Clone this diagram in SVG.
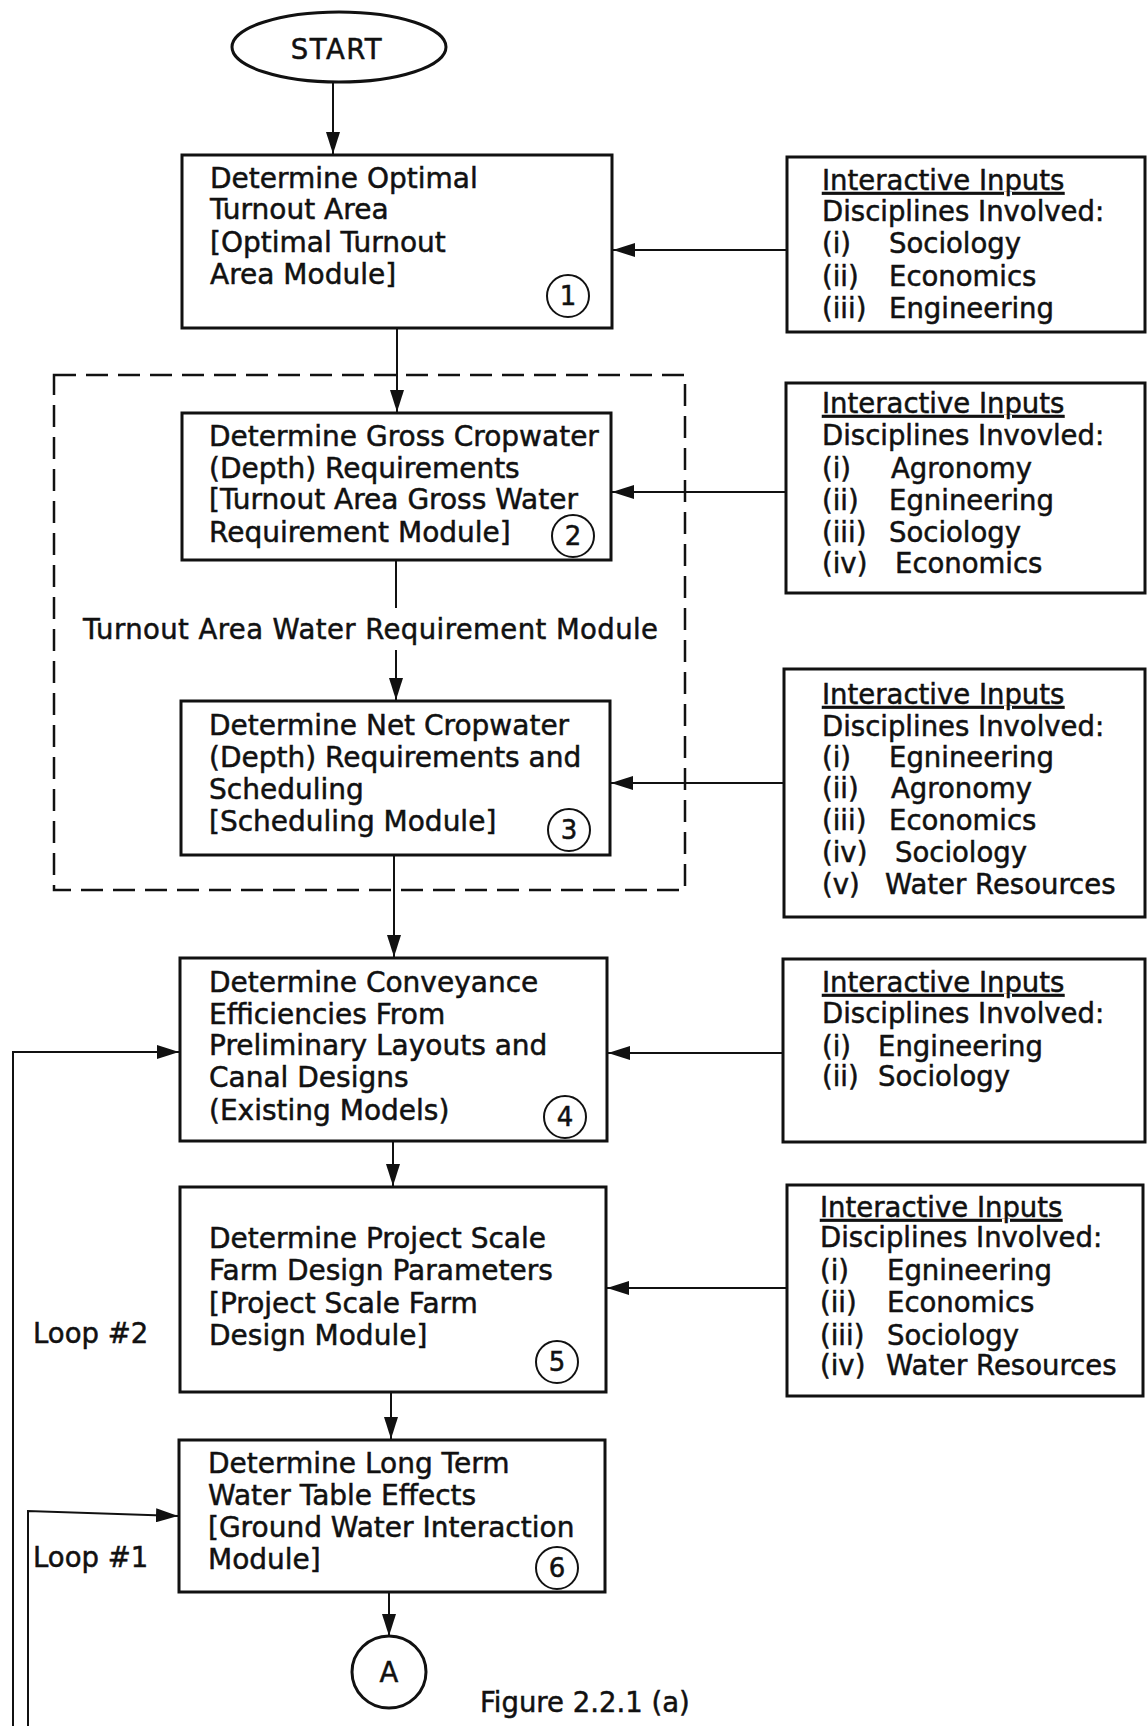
<svg xmlns="http://www.w3.org/2000/svg" width="1147" height="1726" viewBox="0 0 1147 1726">
<style>
text{font-family:"DejaVu Sans","Liberation Sans",sans-serif;font-size:27.5px;fill:#111;stroke:#111;stroke-width:0.5}
.l{font-size:28px}
.box{fill:#fff;stroke:#111;stroke-width:3}
.ln{fill:none;stroke:#111;stroke-width:2}
.dash{fill:none;stroke:#111;stroke-width:2.5;stroke-dasharray:22 10}
.num{font-size:26px;text-anchor:middle}
.u{text-decoration:underline}
</style>
<defs>
<marker id="ah" viewBox="0 0 22 14" refX="22" refY="7" markerWidth="22" markerHeight="14" markerUnits="userSpaceOnUse" orient="auto">
<path d="M0,0 L22,7 L0,14 Z" fill="#111"/>
</marker>
</defs>
<rect width="1147" height="1726" fill="#fff"/>

<g id="module-region">
<rect class="dash" x="54" y="375" width="631" height="515"/>
<text x="83" y="639" textLength="575">Turnout Area Water Requirement Module</text>
</g>

<g id="connectors">
<line class="ln" x1="333" y1="82" x2="333" y2="154" marker-end="url(#ah)"/>
<line class="ln" x1="397" y1="328" x2="397" y2="412" marker-end="url(#ah)"/>
<line class="ln" x1="396" y1="560" x2="396" y2="608"/>
<line class="ln" x1="396" y1="650" x2="396" y2="700" marker-end="url(#ah)"/>
<line class="ln" x1="394" y1="855" x2="394" y2="957" marker-end="url(#ah)"/>
<line class="ln" x1="393" y1="1141" x2="393" y2="1186" marker-end="url(#ah)"/>
<line class="ln" x1="391" y1="1392" x2="391" y2="1439" marker-end="url(#ah)"/>
<line class="ln" x1="389" y1="1592" x2="389" y2="1636" marker-end="url(#ah)"/>
<line class="ln" x1="787" y1="250" x2="613" y2="250" marker-end="url(#ah)"/>
<line class="ln" x1="786" y1="492" x2="612" y2="492" marker-end="url(#ah)"/>
<line class="ln" x1="784" y1="783" x2="611" y2="783" marker-end="url(#ah)"/>
<line class="ln" x1="783" y1="1053" x2="608" y2="1053" marker-end="url(#ah)"/>
<line class="ln" x1="787" y1="1288" x2="607" y2="1288" marker-end="url(#ah)"/>
<path class="ln" d="M13,1726 V1052 H179" marker-end="url(#ah)"/>
<path class="ln" d="M28,1726 V1511 L178,1516" marker-end="url(#ah)"/>
</g>

<g id="start">
<ellipse cx="339" cy="47" rx="107" ry="35" fill="#fff" stroke="#111" stroke-width="3"/>
<text x="337" y="59" text-anchor="middle" letter-spacing="1.5">START</text>
</g>

<g id="node1">
<rect class="box" x="182" y="155" width="430" height="173"/>
<text class="l" x="210" y="188">Determine Optimal</text>
<text class="l" x="210" y="219">Turnout Area</text>
<text class="l" x="210" y="252">[Optimal Turnout</text>
<text class="l" x="210" y="284">Area Module]</text>
<circle cx="568" cy="296" r="21" fill="none" stroke="#111" stroke-width="2"/>
<text class="num" x="568" y="305">1</text>
</g>

<g id="node2">
<rect class="box" x="182" y="413" width="429" height="147"/>
<text class="l" x="209" y="446">Determine Gross Cropwater</text>
<text class="l" x="209" y="478">(Depth) Requirements</text>
<text class="l" x="209" y="509">[Turnout Area Gross Water</text>
<text class="l" x="209" y="542">Requirement Module]</text>
<circle cx="573" cy="536" r="21" fill="none" stroke="#111" stroke-width="2"/>
<text class="num" x="573" y="545">2</text>
</g>

<g id="node3">
<rect class="box" x="181" y="701" width="429" height="154"/>
<text class="l" x="209" y="735">Determine Net Cropwater</text>
<text class="l" x="209" y="767">(Depth) Requirements and</text>
<text class="l" x="209" y="799">Scheduling</text>
<text class="l" x="209" y="831">[Scheduling Module]</text>
<circle cx="569" cy="830" r="21" fill="none" stroke="#111" stroke-width="2"/>
<text class="num" x="569" y="839">3</text>
</g>

<g id="node4">
<rect class="box" x="180" y="958" width="427" height="183"/>
<text class="l" x="209" y="992">Determine Conveyance</text>
<text class="l" x="209" y="1024">Efficiencies From</text>
<text class="l" x="209" y="1055">Preliminary Layouts and</text>
<text class="l" x="209" y="1087">Canal Designs</text>
<text class="l" x="209" y="1120">(Existing Models)</text>
<circle cx="565" cy="1117" r="21" fill="none" stroke="#111" stroke-width="2"/>
<text class="num" x="565" y="1126">4</text>
</g>

<g id="node5">
<rect class="box" x="180" y="1187" width="426" height="205"/>
<text class="l" x="209" y="1248">Determine Project Scale</text>
<text class="l" x="209" y="1280">Farm Design Parameters</text>
<text class="l" x="209" y="1313">[Project Scale Farm</text>
<text class="l" x="209" y="1345">Design Module]</text>
<circle cx="557" cy="1362" r="21" fill="none" stroke="#111" stroke-width="2"/>
<text class="num" x="557" y="1371">5</text>
</g>

<g id="node6">
<rect class="box" x="179" y="1440" width="426" height="152"/>
<text class="l" x="208" y="1473">Determine Long Term</text>
<text class="l" x="208" y="1505">Water Table Effects</text>
<text class="l" x="208" y="1537">[Ground Water Interaction</text>
<text class="l" x="208" y="1569">Module]</text>
<circle cx="557" cy="1568" r="21" fill="none" stroke="#111" stroke-width="2"/>
<text class="num" x="557" y="1577">6</text>
</g>

<g id="connectorA">
<ellipse cx="389" cy="1672" rx="37" ry="36" fill="#fff" stroke="#111" stroke-width="3"/>
<text x="389" y="1682" text-anchor="middle">A</text>
</g>

<g id="inputs1">
<rect class="box" x="787" y="157" width="358" height="175"/>
<text class="u" x="822" y="190">Interactive Inputs</text>
<text x="822" y="221">Disciplines Involved:</text>
<text x="822" y="253">(i)</text><text x="889" y="253">Sociology</text>
<text x="822" y="286">(ii)</text><text x="889" y="286">Economics</text>
<text x="822" y="318">(iii)</text><text x="889" y="318">Engineering</text>
</g>

<g id="inputs2">
<rect class="box" x="786" y="383" width="359" height="210"/>
<text class="u" x="822" y="413">Interactive Inputs</text>
<text x="822" y="445">Disciplines Invovled:</text>
<text x="822" y="478">(i)</text><text x="891" y="478">Agronomy</text>
<text x="822" y="510">(ii)</text><text x="889" y="510">Egnineering</text>
<text x="822" y="542">(iii)</text><text x="889" y="542">Sociology</text>
<text x="822" y="573">(iv)</text><text x="895" y="573">Economics</text>
</g>

<g id="inputs3">
<rect class="box" x="784" y="669" width="361" height="248"/>
<text class="u" x="822" y="704">Interactive Inputs</text>
<text x="822" y="736">Disciplines Involved:</text>
<text x="822" y="767">(i)</text><text x="889" y="767">Egnineering</text>
<text x="822" y="798">(ii)</text><text x="891" y="798">Agronomy</text>
<text x="822" y="830">(iii)</text><text x="889" y="830">Economics</text>
<text x="822" y="862">(iv)</text><text x="895" y="862">Sociology</text>
<text x="822" y="894">(v)</text><text x="885" y="894">Water Resources</text>
</g>

<g id="inputs4">
<rect class="box" x="783" y="959" width="362" height="183"/>
<text class="u" x="822" y="992">Interactive Inputs</text>
<text x="822" y="1023">Disciplines Involved:</text>
<text x="822" y="1056">(i)</text><text x="878" y="1056">Engineering</text>
<text x="822" y="1086">(ii)</text><text x="878" y="1086">Sociology</text>
</g>

<g id="inputs5">
<rect class="box" x="787" y="1185" width="356" height="211"/>
<text class="u" x="820" y="1217">Interactive Inputs</text>
<text x="820" y="1247">Disciplines Involved:</text>
<text x="820" y="1280">(i)</text><text x="887" y="1280">Egnineering</text>
<text x="820" y="1312">(ii)</text><text x="887" y="1312">Economics</text>
<text x="820" y="1345">(iii)</text><text x="887" y="1345">Sociology</text>
<text x="820" y="1375">(iv)</text><text x="886" y="1375">Water Resources</text>
</g>

<g id="labels">
<text x="33" y="1343">Loop #2</text>
<text x="33" y="1567">Loop #1</text>
<text x="480" y="1712">Figure 2.2.1 (a)</text>
</g>
</svg>
